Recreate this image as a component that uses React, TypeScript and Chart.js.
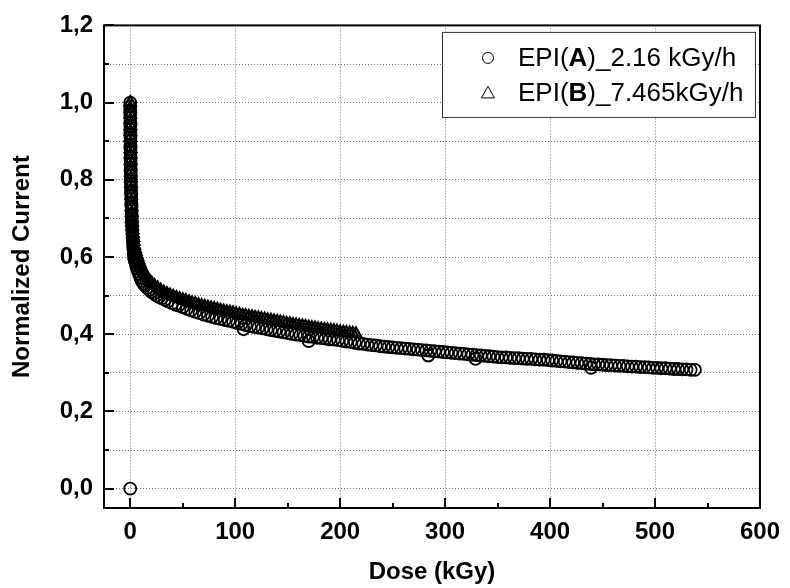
import React, { useEffect, useRef } from 'react';
import { Chart, registerables } from 'chart.js';

Chart.register(...registerables);

// ---------- data ----------
const doseA = [
  0, 0, 0.02, 0.04, 0.06, 0.08, 0.1, 0.12, 0.14, 0.16,
  0.18, 0.2, 0.23, 0.26, 0.29, 0.32, 0.35, 0.39, 0.43, 0.47,
  0.52, 0.57, 0.63, 0.7, 0.78, 0.87, 0.97, 1.08, 1.2, 1.3,
  1.4, 1.5, 1.6, 1.75, 1.9, 2.1, 2.3, 2.5, 2.75, 3.0,
  3.3, 3.6, 4.0, 4.5, 5.0, 5.7, 6.5, 7.5, 8.5, 9.7,
  11, 12.5, 14, 16, 18, 20, 22.5, 25, 27.5, 30,
  33, 36, 40, 43, 46, 50, 54, 58, 62, 66,
  70, 74, 78, 82, 86, 90, 94, 98, 102, 106,
  108, 110, 114, 118, 122, 126, 130, 134, 138, 142,
  146, 150, 154, 158, 162, 166, 170, 170, 174, 178,
  182, 186, 190, 194, 198, 202, 206, 210, 214, 218,
  222, 226, 230, 234, 238, 242, 246, 250, 254, 258,
  262, 266, 270, 274, 278, 282, 284, 286, 290, 294,
  298, 302, 306, 310, 314, 318, 322, 326, 329, 330,
  334, 338, 342, 346, 350, 354, 358, 362, 366, 370,
  374, 378, 382, 386, 390, 394, 398, 402, 406, 410,
  414, 418, 422, 426, 430, 434, 438, 439, 442, 446,
  450, 454, 458, 462, 466, 470, 474, 478, 482, 486,
  490, 494, 498, 502, 506, 510, 514, 518, 522, 526,
  530, 534, 538,
];
const currentA = [
  0.0, 1.0, 0.99, 0.98, 0.97, 0.96, 0.95, 0.94, 0.93, 0.92,
  0.91, 0.9, 0.89, 0.88, 0.87, 0.86, 0.85, 0.84, 0.83, 0.82,
  0.81, 0.8, 0.79, 0.78, 0.77, 0.76, 0.75, 0.74, 0.73, 0.72,
  0.71, 0.7, 0.69, 0.68, 0.67, 0.66, 0.65, 0.64, 0.63, 0.62,
  0.61, 0.6, 0.595, 0.59, 0.585, 0.577, 0.57, 0.562, 0.555, 0.546,
  0.538, 0.531, 0.526, 0.52, 0.515, 0.51, 0.505, 0.5, 0.496, 0.493,
  0.489, 0.485, 0.48, 0.477, 0.474, 0.47, 0.466, 0.462, 0.458, 0.455,
  0.451, 0.448, 0.445, 0.442, 0.44, 0.437, 0.435, 0.432, 0.429, 0.427,
  0.413, 0.424, 0.421, 0.419, 0.417, 0.415, 0.413, 0.411, 0.409, 0.407,
  0.405, 0.403, 0.401, 0.399, 0.398, 0.396, 0.394, 0.382, 0.393, 0.391,
  0.39, 0.389, 0.387, 0.386, 0.385, 0.383, 0.381, 0.38, 0.378, 0.376,
  0.375, 0.373, 0.372, 0.371, 0.369, 0.368, 0.367, 0.366, 0.365, 0.364,
  0.363, 0.362, 0.361, 0.36, 0.359, 0.358, 0.345, 0.357, 0.356, 0.355,
  0.354, 0.353, 0.352, 0.351, 0.35, 0.349, 0.348, 0.347, 0.336, 0.346,
  0.345, 0.344, 0.343, 0.342, 0.341, 0.34, 0.34, 0.339, 0.338, 0.338,
  0.337, 0.336, 0.336, 0.335, 0.334, 0.334, 0.333, 0.332, 0.331, 0.33,
  0.329, 0.328, 0.327, 0.326, 0.325, 0.324, 0.323, 0.313, 0.322, 0.322,
  0.321, 0.32, 0.32, 0.319, 0.318, 0.318, 0.317, 0.316, 0.316, 0.315,
  0.315, 0.314, 0.313, 0.313, 0.312, 0.312, 0.311, 0.31, 0.31, 0.309,
  0.309, 0.308, 0.308,
];

const doseB = [
  0, 0.03, 0.06, 0.09, 0.12, 0.15, 0.19, 0.23, 0.27, 0.32,
  0.37, 0.43, 0.5, 0.58, 0.67, 0.77, 0.88, 1.0, 1.15, 1.32,
  1.5, 1.75, 2.0, 2.3, 2.65, 3.05, 3.5, 4.0, 4.6, 5.3,
  6.1, 7.0, 8.0, 9.1, 10.3, 11.6, 13, 14.6, 16.4, 18.4,
  20.5, 23, 26, 29, 32, 35, 38, 41, 44, 47,
  50, 53, 56, 59, 62, 65, 68, 71, 74, 77,
  80, 83, 86, 89, 92, 95, 98, 101, 104, 107,
  110, 113, 116, 119, 122, 125, 128, 131, 134, 137,
  140, 143, 146, 149, 152, 155, 158, 161, 164, 167,
  170, 173, 176, 179, 182, 185, 188, 191, 194, 197,
  200, 203, 206, 209, 212, 215,
];
const currentB = [
  1.0, 0.985, 0.97, 0.955, 0.94, 0.925, 0.91, 0.895, 0.88, 0.865,
  0.85, 0.835, 0.82, 0.805, 0.79, 0.775, 0.76, 0.745, 0.73, 0.715,
  0.7, 0.69, 0.68, 0.67, 0.66, 0.65, 0.64, 0.63, 0.622, 0.614,
  0.607, 0.6, 0.592, 0.584, 0.576, 0.568, 0.56, 0.552, 0.545, 0.538,
  0.532, 0.526, 0.52, 0.514, 0.509, 0.505, 0.501, 0.498, 0.495, 0.492,
  0.489, 0.487, 0.484, 0.481, 0.479, 0.476, 0.474, 0.472, 0.47, 0.468,
  0.466, 0.464, 0.462, 0.46, 0.458, 0.457, 0.455, 0.453, 0.451, 0.449,
  0.448, 0.446, 0.445, 0.443, 0.442, 0.44, 0.439, 0.437, 0.436, 0.434,
  0.433, 0.431, 0.43, 0.428, 0.427, 0.425, 0.424, 0.422, 0.421, 0.42,
  0.418, 0.417, 0.416, 0.414, 0.413, 0.412, 0.411, 0.41, 0.409, 0.408,
  0.406, 0.405, 0.404, 0.403, 0.402, 0.401,
];

const seriesNames = ['EPI(A)_2.16 kGy/h', 'EPI(B)_7.465kGy/h'];
const legendPrefix = ['EPI(', 'EPI('];
const legendBold = ['A', 'B'];
const legendSuffix = [')_2.16 kGy/h', ')_7.465kGy/h'];

const xMajorTicks = [0, 100, 200, 300, 400, 500, 600];
const xMinorTicks = [50, 150, 250, 350, 450, 550];
const yMajorTicks = [0, 0.2, 0.4, 0.6, 0.8, 1.0, 1.2];
const yMinorTicks = [0.1, 0.3, 0.5, 0.7, 0.9, 1.1];

const xTitle = 'Dose (kGy)';
const yTitle = 'Normalized Current';

const FONT = 'Arial, "Liberation Sans", Helvetica, sans-serif';

const framePlugin = {
  id: 'frame',
  afterDraw(chart: any) {
    const { ctx, chartArea } = chart;
    const { left, right, top, bottom } = chartArea;
    const xs = chart.scales.x;
    const ys = chart.scales.y;
    ctx.save();
    ctx.strokeStyle = '#000';
    ctx.lineWidth = 2;
    ctx.setLineDash([]);
    ctx.beginPath();
    xMajorTicks.forEach((v) => {
      const px = Math.round(xs.getPixelForValue(v));
      ctx.moveTo(px, bottom);
      ctx.lineTo(px, bottom - 10);
    });
    xMinorTicks.forEach((v) => {
      const px = Math.round(xs.getPixelForValue(v));
      ctx.moveTo(px, bottom);
      ctx.lineTo(px, bottom - 5);
    });
    yMajorTicks.forEach((v) => {
      const py = Math.round(ys.getPixelForValue(v));
      ctx.moveTo(left, py);
      ctx.lineTo(left + 10, py);
    });
    yMinorTicks.forEach((v) => {
      const py = Math.round(ys.getPixelForValue(v));
      ctx.moveTo(left, py);
      ctx.lineTo(left + 5, py);
    });
    ctx.stroke();
    ctx.strokeRect(left, top, right - left, bottom - top);

    // legend
    const lx = right - 318;
    const ly = top + 6.5;
    const lw = 313;
    const lh = 85;
    ctx.fillStyle = '#fff';
    ctx.fillRect(lx, ly, lw, lh);
    ctx.lineWidth = 1;
    ctx.strokeStyle = '#333';
    ctx.strokeRect(lx + 0.5, ly + 0.5, lw, lh);
    const rowY = [ly + 26, ly + 61];
    ctx.strokeStyle = '#000';
    ctx.lineWidth = 1;
    ctx.beginPath();
    ctx.arc(lx + 46, rowY[0], 5.5, 0, Math.PI * 2);
    ctx.stroke();
    ctx.beginPath();
    const tx = lx + 46;
    const ty = rowY[1];
    ctx.moveTo(tx, ty - 6.5);
    ctx.lineTo(tx + 6.5, ty + 5);
    ctx.lineTo(tx - 6.5, ty + 5);
    ctx.closePath();
    ctx.stroke();
    ctx.fillStyle = '#000';
    ctx.textBaseline = 'middle';
    ctx.textAlign = 'left';
    for (let i = 0; i < 2; i++) {
      let x = lx + 76;
      const y = rowY[i] + 1;
      ctx.font = `26px ${FONT}`;
      ctx.fillText(legendPrefix[i], x, y);
      x += ctx.measureText(legendPrefix[i]).width;
      ctx.font = `bold 26px ${FONT}`;
      ctx.fillText(legendBold[i], x, y);
      x += ctx.measureText(legendBold[i]).width;
      ctx.font = `26px ${FONT}`;
      ctx.fillText(legendSuffix[i], x, y);
    }
    ctx.restore();
  },
};

export default function App() {
  const ref = useRef<HTMLCanvasElement | null>(null);

  useEffect(() => {
    document.body.style.margin = '0';
    const canvas = ref.current;
    if (!canvas) return;
    const yAll = [...yMajorTicks, ...yMinorTicks].sort((a, b) => a - b);
    const chart = new Chart(canvas, {
      type: 'scatter',
      data: {
        datasets: [
          {
            label: seriesNames[0],
            data: doseA.map((d, i) => ({ x: d, y: currentA[i] })),
            pointStyle: 'circle',
            pointRadius: 6,
            borderColor: '#000',
            backgroundColor: 'rgba(0,0,0,0)',
            borderWidth: 1.8,
            showLine: false,
          },
          {
            label: seriesNames[1],
            data: doseB.map((d, i) => ({ x: d, y: currentB[i] })),
            pointStyle: 'triangle',
            pointRadius: 6.5,
            borderColor: '#000',
            backgroundColor: 'rgba(0,0,0,0)',
            borderWidth: 2.2,
            showLine: false,
          },
        ],
      },
      options: {
        animation: false,
        responsive: false,
        devicePixelRatio: 1,
        layout: { padding: { left: 0, right: 25, top: 20, bottom: 0 } },
        plugins: {
          legend: { display: false },
          tooltip: { enabled: false },
        },
        scales: {
          x: {
            type: 'linear',
            min: -25,
            max: 600,
            afterFit(scale: any) {
              scale.height = 80;
            },
            afterBuildTicks(scale: any) {
              scale.ticks = xMajorTicks.map((v) => ({ value: v }));
            },
            ticks: {
              autoSkip: false,
              maxRotation: 0,
              padding: 10,
              color: '#000',
              font: { family: FONT, size: 24, weight: 'bold' },
              callback: (v: any) => String(v),
            },
            grid: { color: '#777', lineWidth: 1, drawTicks: false },
            border: { display: false, dash: [1, 2] },
            title: {
              display: true,
              text: xTitle,
              color: '#000',
              font: { family: FONT, size: 24, weight: 'bold' },
              padding: { top: 0, bottom: 1 },
            },
          },
          y: {
            type: 'linear',
            min: -0.05,
            max: 1.2,
            afterFit(scale: any) {
              scale.width = 104;
            },
            afterBuildTicks(scale: any) {
              scale.ticks = yAll.map((v) => ({ value: v }));
            },
            ticks: {
              autoSkip: false,
              padding: 11,
              color: '#000',
              font: { family: FONT, size: 24, weight: 'bold' },
              callback: (v: any) => {
                const n = Math.round(Number(v) * 10);
                return n % 2 === 0 ? (n / 10).toFixed(1).replace('.', ',') : '';
              },
            },
            grid: { color: '#777', lineWidth: 1, drawTicks: false },
            border: { display: false, dash: [1, 2] },
            title: {
              display: true,
              text: yTitle,
              color: '#000',
              font: { family: FONT, size: 24, weight: 'bold' },
              padding: { top: 8, bottom: 0 },
            },
          },
        },
      },
      plugins: [framePlugin],
    });
    return () => chart.destroy();
  }, []);

  return (
    <div style={{ width: 790, height: 588 }}>
      <canvas ref={ref} width={790} height={588} style={{ display: 'block' }} />
    </div>
  );
}
